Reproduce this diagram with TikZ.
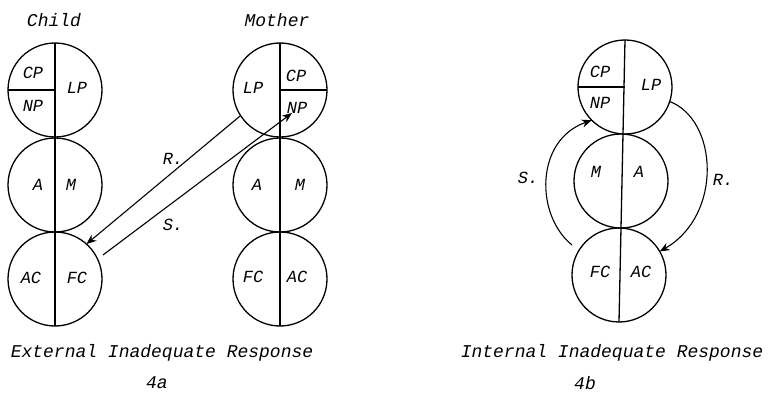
\documentclass[tikz,border=0pt]{standalone}
\usepackage{fontspec}
\setmonofont{Liberation Mono}
\usetikzlibrary{arrows.meta}
\begin{document}
\begin{tikzpicture}[x=1pt,y=-1pt,
  ring/.style={circle,draw,line width=1.3pt,minimum size=94pt,inner sep=0pt,outer sep=0pt},
  lbl/.style={font=\ttfamily\itshape\fontsize{17}{19}\selectfont,inner sep=0pt},
  captxt/.style={font=\ttfamily\itshape\fontsize{18}{20}\selectfont,inner sep=0pt},
  split/.style={line width=1.3pt},
  conn/.style={line width=1.1pt,-{Stealth[length=10pt,width=8pt]}}]
\useasboundingbox (0,0) rectangle (769,393);
% ---- 4a: Child ----
\node[captxt] (tchild) at (54,20) {Child};
\node[ring] (c1) at (55,90) {};
\node[ring] (c2) at (55,185) {};
\node[ring] (c3) at (55,279) {};
\draw[split] (c1.north) -- (c3.south);
\draw[split] (c1.west) -- (c1.center);
\node[lbl] (cCP) at (33,73) {CP};
\node[lbl] (cNP) at (33,106) {NP};
\node[lbl] (cLP) at (77,88) {LP};
\node[lbl] (cA) at (38,185) {A};
\node[lbl] (cM) at (71,185) {M};
\node[lbl] (cAC) at (31,278) {AC};
\node[lbl] (cFC) at (77,278) {FC};
% ---- 4a: Mother ----
\node[captxt] (tmother) at (277,20) {Mother};
\node[ring] (m1) at (280,90) {};
\node[ring] (m2) at (280,185) {};
\node[ring] (m3) at (280,279) {};
\draw[split] (m1.north) -- (m3.south);
\draw[split] (m1.center) -- (m1.east);
\node[lbl] (mLP) at (253,88) {LP};
\node[lbl] (mCP) at (296,76) {CP};
\node[lbl] (mNP) at (297,108) {NP};
\node[lbl] (mA) at (257,185) {A};
\node[lbl] (mM) at (300,185) {M};
\node[lbl] (mFC) at (253,277) {FC};
\node[lbl] (mAC) at (297,277) {AC};
% connectors 4a
\coordinate (sA) at (103,255);
\coordinate (sB) at (292,113);
\draw[conn] (m1.213) -- (c3.48);
\draw[conn] (sA) -- (sB);
\node[lbl] (lR) at (173,159) {R.};
\node[lbl] (lS) at (173,225) {S.};
% captions
\node[captxt] (capA) at (162,353) {External Inadequate Response};
\node[captxt] (numA) at (157,383) {4a};
% ---- 4b ----
\node[ring] (b1) at (625,87) {};
\node[ring] (b2) at (621,181) {};
\node[ring] (b3) at (619,275) {};
\draw[split] (b1.north) -- (b3.south);
\draw[split] (b1.west) -- (b1.center);
\node[lbl] (bCP) at (600,72) {CP};
\node[lbl] (bNP) at (600,103) {NP};
\node[lbl] (bLP) at (651,85) {LP};
\node[lbl] (bM) at (596,172) {M};
\node[lbl] (bA) at (639,172) {A};
\node[lbl] (bFC) at (600,272) {FC};
\node[lbl] (bAC) at (641,272) {AC};
\coordinate (ssA) at (572,245);
\draw[conn] (ssA) .. controls (535,215) and (535,140) .. (b1.225);
\draw[conn] (b1.-18) .. controls (718,120) and (723,215) .. (b3.30);
\node[lbl] (bS) at (528,178) {S.};
\node[lbl] (bR) at (723,180) {R.};
\node[captxt] (capB) at (612,353) {Internal Inadequate Response};
\node[captxt] (numB) at (585,383) {4b};
\end{tikzpicture}
\end{document}
